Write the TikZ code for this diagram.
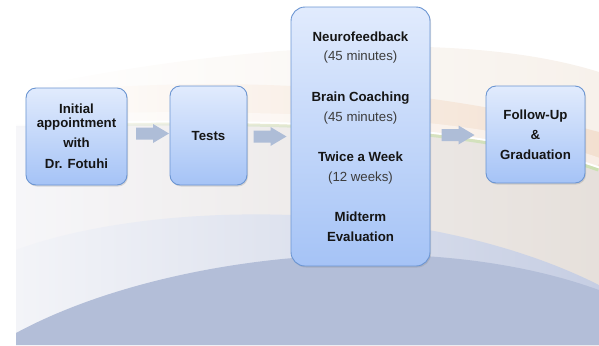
\documentclass[tikz,border=0pt]{standalone}
\usepackage{fontspec}
\setmainfont{Liberation Sans}
\usetikzlibrary{shadows,fadings}
\definecolor{boxtop}{HTML}{E1EBFD}
\definecolor{boxbot}{HTML}{A5C3F6}
\definecolor{boxline}{HTML}{6B95D2}
\definecolor{arrowc}{HTML}{AEBDD7}
\definecolor{txt}{HTML}{151515}
\definecolor{subc}{HTML}{3C3C3C}
\definecolor{bgdark}{HTML}{B3BED8}
\definecolor{bglight}{HTML}{C6CEE3}
\definecolor{bgpale}{HTML}{F3F4F8}
\definecolor{bggray}{HTML}{E6E0DB}
\definecolor{bggrayl}{HTML}{F6F6F9}
\definecolor{bgorange}{HTML}{F3E0D0}
\definecolor{bgbeige}{HTML}{F7F1EB}
\definecolor{bggreen}{HTML}{CCE0B3}
\tikzfading[name=fadeleft, left color=transparent!100, right color=transparent!0]
\tikzset{
  boxc/.style={draw=boxline, line width=0.9bp, rounded corners=10bp,
    top color=boxtop, bottom color=boxbot, inner sep=0pt, align=center,
    font=\bfseries\fontsize{13.3}{20}\selectfont, text=txt,
    drop shadow={opacity=0.25, shadow xshift=1bp, shadow yshift=-1.5bp}},
  blockarrow/.pic={\fill[arrowc] (-16.5,-6) -- (0.5,-6) -- (0.5,-9.5) -- (16.5,0)
      -- (0.5,9.5) -- (0.5,6) -- (-16.5,6) -- cycle;}
}
\newcommand{\subline}[1]{{\mdseries\color{subc}#1}}
\begin{document}
\begin{tikzpicture}[x=1bp,y=-1bp]
\useasboundingbox (0,0) rectangle (599,345);
% background
\begin{scope}
\clip (16,0) rectangle (599,345);
\shade[left color=white, right color=bgbeige]
  (16,90) .. controls (200,50) and (450,25) .. (599,72) -- (599,345) -- (16,345) -- cycle;
\shade[left color=white, right color=bgorange]
  (16,95) .. controls (200,75) and (400,80) .. (599,132) -- (599,345) -- (16,345) -- cycle;
\draw[white, line width=10bp, opacity=0.45]
  (16,119) .. controls (300,113) and (480,121) .. (599,163);
\shade[left color=bggrayl, right color=bggray]
  (16,126) .. controls (300,120) and (480,128) .. (599,170) -- (599,345) -- (16,345) -- cycle;
\draw[white, line width=2bp]
  (16,123.5) .. controls (300,117.5) and (480,125.5) .. (599,167.5);
\draw[bggreen, line width=3bp, path fading=fadeleft]
  (16,126) .. controls (300,120) and (480,128) .. (599,170);
\shade[left color=bgpale, right color=bglight]
  (16,250) .. controls (150,200) and (420,195) .. (599,285) -- (599,345) -- (16,345) -- cycle;
\fill[bgdark]
  (16,333) .. controls (160,255) and (420,225) .. (599,290) -- (599,345) -- (16,345) -- cycle;
\end{scope}
% boxes
\node[boxc, minimum width=101bp, minimum height=97bp] (init) at (76.5,136.5)
  {Initial\\[-6bp]appointment\\with\\[1bp]Dr. Fotuhi};
\node[boxc, minimum width=77bp, minimum height=99bp] (tests) at (208.5,135.5) {Tests};
\node[boxc, rounded corners=14bp, minimum width=139bp, minimum height=259bp] (prog) at (360.5,136.5)
  {Neurofeedback\\\subline{(45 minutes)}\\[20.5bp]Brain Coaching\\\subline{(45 minutes)}\\[20bp]Twice a Week\\\subline{(12 weeks)}\\[20.5bp]Midterm\\Evaluation};
\node[boxc, minimum width=99bp, minimum height=97bp] (follow) at (535.5,134.5)
  {Follow-Up\\\&\\Graduation};
% arrows
\coordinate (a1) at (152.5,133.5);
\coordinate (a2) at (270,136.5);
\coordinate (a3) at (458,135);
\pic (arr1) at (a1) {blockarrow};
\pic (arr2) at (a2) {blockarrow};
\pic (arr3) at (a3) {blockarrow};
\end{tikzpicture}
\end{document}
